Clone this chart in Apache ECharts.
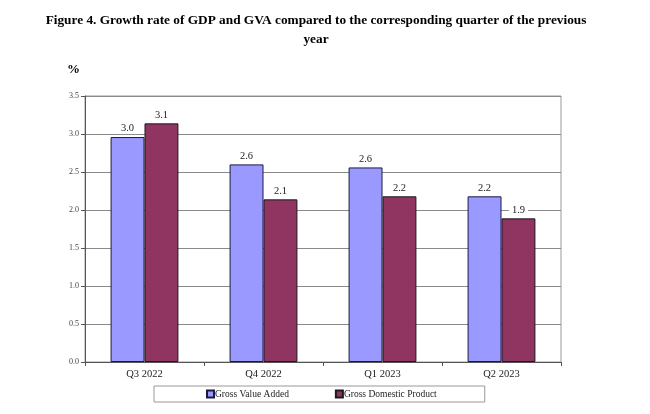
<!DOCTYPE html>
<html><head><meta charset="utf-8">
<script src="https://cdn.jsdelivr.net/npm/echarts@6/dist/echarts.min.js"></script>
<style>html,body{margin:0;padding:0;background:#fff}#c{width:650px;height:414px}</style>
</head><body><div id="c"></div>
<script>
const categories = ["Q3 2022", "Q4 2022", "Q1 2023", "Q2 2023"];
const gvaValues = [2.96, 2.60, 2.56, 2.18];
const gdpValues = [3.14, 2.14, 2.18, 1.89];
const seriesNames = ["Gross Value Added", "Gross Domestic Product"];
const yTicks = [0, 0.5, 1.0, 1.5, 2.0, 2.5, 3.0, 3.5];
const titleLines = ["Figure 4. Growth rate of GDP and GVA compared to the corresponding quarter of the previous", "year"];

const chart = echarts.init(document.getElementById('c'));
const serif = '"Liberation Serif", "DejaVu Serif", serif';
const lbl = {
  show: true, position: 'top', distance: 3,
  fontFamily: serif, fontSize: 10.5, color: '#222',
  backgroundColor: '#fff', padding: [0, 3],
  formatter: p => p.value.toFixed(1)
};
chart.setOption({
  animation: false,
  graphic: [
    { type: 'text', x: 316, y: 21,
      style: { text: titleLines[0], font: 'bold 13.3px "Liberation Serif", serif', fill: '#000', align: 'center', verticalAlign: 'middle' } },
    { type: 'text', x: 316, y: 40,
      style: { text: titleLines[1], font: 'bold 13.3px "Liberation Serif", serif', fill: '#000', align: 'center', verticalAlign: 'middle' } },
    { type: 'text', x: 67, y: 70,
      style: { text: '%', font: 'bold 13px "Liberation Serif", serif', fill: '#000', verticalAlign: 'middle' } }
  ],
  legend: {
    bottom: 12, left: 154,
    itemWidth: 7, itemHeight: 7, itemGap: 46,
    borderColor: '#999', borderWidth: 1, padding: [3, 48, 3, 52],
    icon: 'rect',
    textStyle: { fontFamily: serif, fontSize: 9.5, color: '#222', padding: [0, 0, 0, -4] },
    data: seriesNames
  },
  grid: { left: 85, right: 89, top: 96, bottom: 52, show: true, borderColor: '#999', borderWidth: 1 },
  xAxis: {
    type: 'category', data: categories,
    axisLine: { lineStyle: { color: '#555' } },
    axisTick: { show: true, length: 4, lineStyle: { color: '#555' } },
    axisLabel: { fontFamily: serif, fontSize: 10.5, color: '#222', margin: 7 }
  },
  yAxis: {
    type: 'value', min: yTicks[0], max: yTicks[yTicks.length - 1], interval: 0.5,
    axisLine: { show: true, lineStyle: { color: '#555' } },
    axisTick: { show: true, length: 4, lineStyle: { color: '#555' } },
    axisLabel: { fontFamily: serif, fontSize: 8, color: '#444', formatter: v => v.toFixed(1), margin: 6 },
    splitLine: { lineStyle: { color: '#8a8a8a', width: 1 } }
  },
  series: [
    { name: seriesNames[0], type: 'bar', data: gvaValues, barGap: '0%', barCategoryGap: '43%',
      itemStyle: { color: '#9999FF', borderColor: '#1a1a40', borderWidth: 1 }, label: lbl },
    { name: seriesNames[1], type: 'bar', data: gdpValues,
      itemStyle: { color: '#903562', borderColor: '#1a1a1a', borderWidth: 1 }, label: lbl }
  ]
});
</script></body></html>
